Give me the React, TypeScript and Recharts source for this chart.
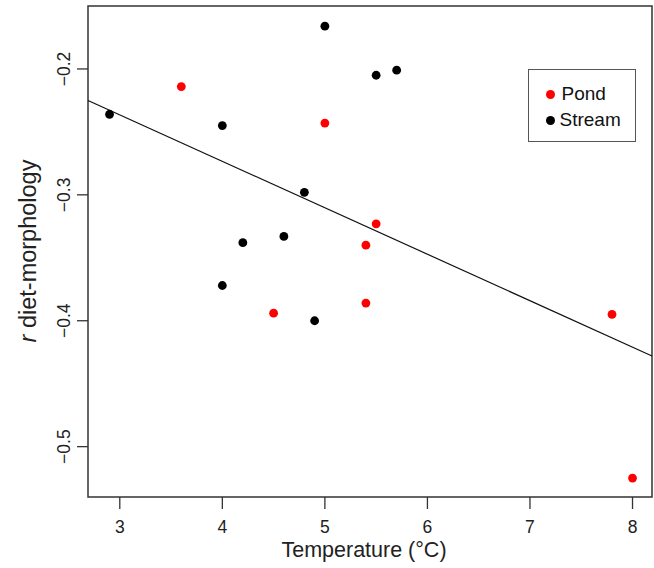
import * as React from 'react';
import { ScatterChart, Scatter, XAxis, YAxis, ReferenceLine, ReferenceArea, Legend } from 'recharts';

const FONT = '"Liberation Sans", Arial, Helvetica, sans-serif';

// temperature (°C) and r diet-morphology
const pondTemp = [3.6, 5.0, 5.5, 5.4, 5.4, 4.5, 7.8, 8.0];
const pondR = [-0.214, -0.243, -0.323, -0.340, -0.386, -0.394, -0.395, -0.525];
const streamTemp = [2.9, 4.0, 5.0, 5.5, 5.7, 4.8, 4.2, 4.6, 4.0, 4.9];
const streamR = [-0.236, -0.245, -0.166, -0.205, -0.201, -0.298, -0.338, -0.333, -0.372, -0.400];

// fitted regression line, end points at the plot edges
const fitTemp = [2.69, 8.19];
const fitR = [-0.225, -0.428];

const xDomain = [2.69, 8.19];
const yDomain = [-0.54, -0.15];
const xTicks = [3, 4, 5, 6, 7, 8];
const yTicks = [-0.5, -0.4, -0.3, -0.2];

const seriesNames = ['Pond', 'Stream'];
const seriesColors = ['#ff0000', '#000000'];

const pondData = pondTemp.map((t, i) => ({ x: t, y: pondR[i] }));
const streamData = streamTemp.map((t, i) => ({ x: t, y: streamR[i] }));

const dot = (color: string) => (props: any) => (
  <circle cx={props.cx} cy={props.cy} r={4.4} fill={color} />
);

const XTick = (props: any) => (
  <text x={props.x} y={533} textAnchor="middle" fontSize={17.5} fontFamily={FONT} fill="#222">
    {props.payload.value}
  </text>
);

const YTick = (props: any) => {
  const label = (props.payload.value < 0 ? '\u2212' : '') + Math.abs(props.payload.value).toFixed(1);
  return (
    <text x={70} y={props.y} transform={`rotate(-90, 70, ${props.y})`} textAnchor="middle"
      fontSize={17.5} fontFamily={FONT} fill="#222">
      {label}
    </text>
  );
};

const LegendBox = () => (
  <div style={{ border: '1.5px solid #555', width: 108, height: 73, boxSizing: 'border-box', background: '#fff',
    fontFamily: FONT, fontSize: 19, color: '#111', paddingTop: 11 }}>
    {seriesNames.map((n, i) => (
      <div key={n} style={{ display: 'flex', alignItems: 'center', height: 26, marginLeft: 16.5 }}>
        <span style={{ width: 9, height: 9, borderRadius: '50%', background: seriesColors[i], display: 'inline-block',
          marginRight: i === 0 ? 7 : 5 }} />
        <span>{n}</span>
      </div>
    ))}
  </div>
);

export default function App() {
  return (
    <div style={{ position: 'absolute', left: 0, top: 0, background: '#fff' }}>
      <ScatterChart width={654} height={568} margin={{ top: 6, right: 2, bottom: 0, left: 0 }}>
        <XAxis type="number" dataKey="x" domain={xDomain} ticks={xTicks} allowDataOverflow
          height={71} axisLine={false} tickSize={12} tickLine={{ stroke: '#333', strokeWidth: 1.3 }}
          tick={<XTick />}
          label={{ content: () => (
            <text x={364} y={557} textAnchor="middle" fontSize={21.5} fontFamily={FONT} fill="#222">Temperature (°C)</text>
          ) }} />
        <YAxis type="number" dataKey="y" domain={yDomain} ticks={yTicks} allowDataOverflow
          width={88} axisLine={false} tickSize={11} tickLine={{ stroke: '#333', strokeWidth: 1.3 }}
          tick={<YTick />}
          label={{ content: () => (
            <text x={36} y={251} transform="rotate(-90, 36, 251)" textAnchor="middle" fontSize={23.5} fontFamily={FONT} fill="#222">
              <tspan fontStyle="italic">r</tspan> diet-morphology
            </text>
          ) }} />
        <ReferenceArea x1={xDomain[0]} x2={xDomain[1]} y1={yDomain[0]} y2={yDomain[1]} fill="none"
          stroke="#333" strokeWidth={1.5} ifOverflow="visible" />
        <ReferenceLine segment={[{ x: fitTemp[0], y: fitR[0] }, { x: fitTemp[1], y: fitR[1] }]}
          stroke="#111" strokeWidth={1.2} ifOverflow="visible" />
        <Scatter name={seriesNames[0]} data={pondData} fill={seriesColors[0]} shape={dot(seriesColors[0])} isAnimationActive={false} />
        <Scatter name={seriesNames[1]} data={streamData} fill={seriesColors[1]} shape={dot(seriesColors[1])} isAnimationActive={false} />
        <Legend layout="vertical" align="center" verticalAlign="middle" content={<LegendBox />}
          wrapperStyle={{ left: 528, top: 69, width: 108, height: 73, right: 'auto', bottom: 'auto' }} />
      </ScatterChart>
    </div>
  );
}
